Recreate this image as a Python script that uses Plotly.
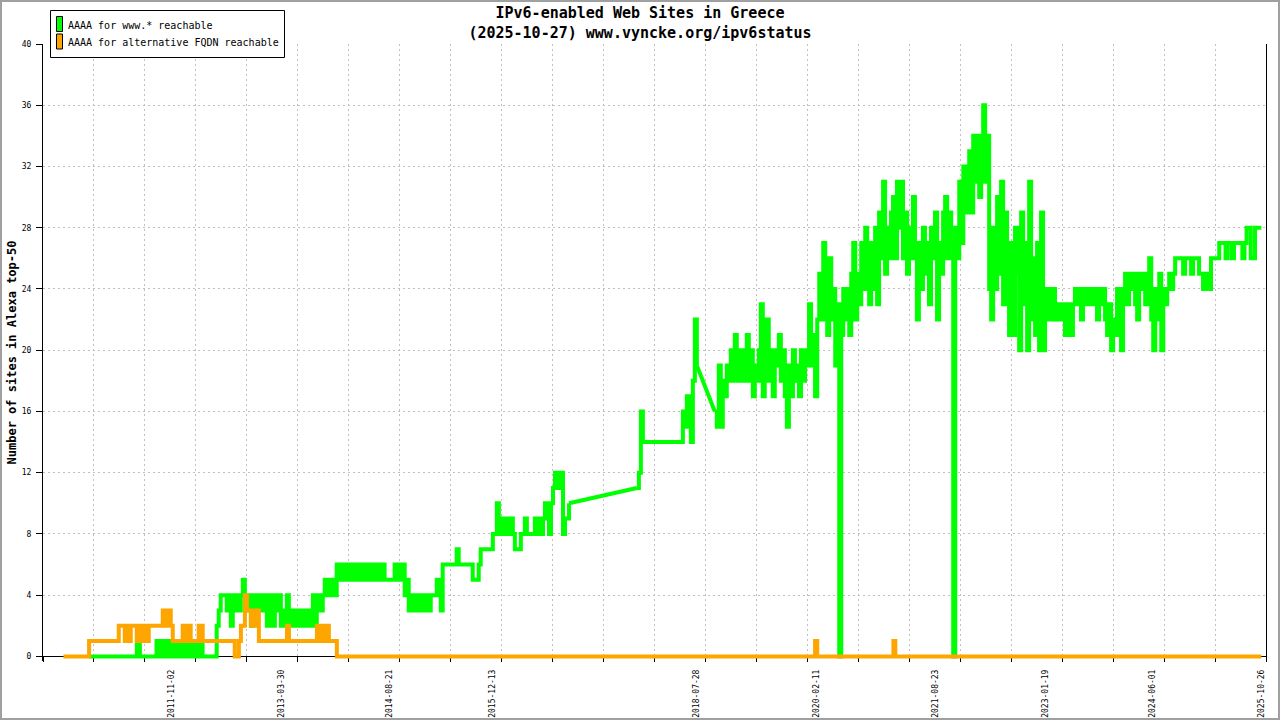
import pandas as pd
import plotly.graph_objects as go

# ---------------- data ----------------
TITLE = "IPv6-enabled Web Sites in Greece<br>(2025-10-27) www.vyncke.org/ipv6status"
Y_TITLE = "Number of sites in Alexa top-50"
SERIES_NAMES = ["AAAA for www.* reachable", "AAAA for alternative FQDN reachable"]
SERIES_COLORS = ["#00ff00", "#ffa500"]

X_START = "2010-03-10"
X_END = "2025-11-17"
X_LABEL_DATES = ["2011-11-02", "2013-03-30", "2014-08-21", "2015-12-13", "2018-07-28",
                 "2020-02-11", "2021-08-23", "2023-01-19", "2024-06-01", "2025-10-26"]
Y_TICKS = [0, 4, 8, 12, 16, 20, 24, 28, 32, 36, 40]

# Each segment: (first sample date, last sample date, samples evenly spread between)
WWW_SEGMENTS = [
    ("2010-10-12", "2011-05-21", [0, 0]),
    ("2011-05-24", "2011-06-05", [1, 1]),
    ("2011-06-07", "2011-08-19", [0, 0]),
    ("2011-08-24", "2012-03-27", [1, 0, 0, 1, 1, 0, 1, 0, 0, 1, 0, 1, 1, 0, 0, 1, 0, 0, 1, 1, 0, 0, 1, 0]),
    ("2012-04-06", "2012-05-27", [0, 0]),
    ("2012-06-01", "2013-01-13", [2, 3, 4, 4, 4, 3, 4, 2, 4, 3, 4, 3, 4, 5, 4, 3, 4, 2, 4, 3, 4, 3, 4, 3, 4]),
    ("2013-01-22", "2013-09-04", [2, 4, 3, 2, 4, 3, 4, 2, 3, 2, 4, 3, 2, 3, 2, 3, 2, 3, 2, 3, 2, 3, 2, 4, 2]),
    ("2013-09-13", "2014-04-25", [3, 4, 3, 4, 5, 4, 5, 4, 5, 4, 6, 5, 5, 6, 5, 6, 5, 6, 6, 5, 6, 5, 6, 6, 5]),
    ("2014-05-04", "2014-12-16", [6, 6, 5, 6, 5, 5, 6, 5, 6, 5, 5, 5, 5, 5, 6, 5, 6, 5, 6, 4, 5, 3, 4, 3, 4]),
    ("2014-12-25", "2015-04-17", [3, 4, 3, 3, 4, 3, 3, 4, 4, 4, 5, 5, 3]),
    ("2015-04-26", "2015-12-07", [6, 6, 6, 6, 6, 6, 6, 7, 6, 6, 6, 6, 6, 6, 6, 5, 5, 5, 6, 7, 7, 7, 7, 7, 7]),
    ("2015-12-17", "2016-07-29", [8, 8, 10, 9, 8, 9, 8, 9, 8, 9, 8, 7, 7, 7, 8, 8, 9, 8, 8, 8, 8, 9, 8, 9, 8]),
    ("2016-08-08", "2016-12-08", [9, 10, 9, 8, 10, 11, 12, 11, 12, 12, 8, 9, 9, 10]),
    ("2017-10-22", "2018-07-30", [11, 12, 16, 14, 14, 14, 14, 14, 14, 14, 14, 14, 14, 14, 14, 14, 14, 14, 14,
                                  14, 14, 14, 14, 16, 15, 17, 16, 14, 18, 22, 19]),
    ("2018-10-22", "2019-06-04", [16, 15, 19, 15, 18, 17, 19, 18, 20, 18, 21, 19, 18, 20, 18, 20, 21, 18, 20,
                                  17, 19, 18, 20, 23, 17]),
    ("2019-06-13", "2020-02-04", [20, 22, 18, 20, 17, 20, 19, 21, 18, 20, 17, 15, 19, 17, 20, 18, 19, 17, 20,
                                  18, 20, 19, 23, 19, 21, 17]),
    ("2020-02-14", "2020-09-26", [22, 25, 22, 27, 23, 21, 26, 22, 24, 19, 23, 0, 21, 24, 22, 24, 21, 25, 27,
                                  22, 25, 23, 27, 24, 28]),
    ("2020-10-05", "2021-05-17", [25, 23, 27, 24, 28, 23, 29, 26, 31, 25, 28, 26, 29, 30, 26, 31, 28, 31, 26,
                                  29, 25, 28, 26, 30, 27]),
    ("2021-05-26", "2022-01-08", [22, 27, 24, 28, 25, 27, 23, 28, 26, 29, 22, 27, 25, 29, 30, 26, 29, 27, 0,
                                  28, 26, 31, 27, 32, 29]),
    ("2022-01-17", "2022-08-29", [30, 33, 29, 34, 31, 34, 30, 33, 36, 31, 34, 24, 22, 28, 24, 30, 25, 31, 23,
                                  29, 24, 21, 27, 21, 28]),
    ("2022-09-08", "2023-04-20", [25, 20, 29, 23, 27, 20, 31, 22, 26, 21, 27, 20, 29, 20, 24, 22, 24, 22, 24,
                                  23, 22, 23, 22, 23, 21]),
    ("2023-04-29", "2023-12-11", [23, 22, 21, 23, 24, 23, 24, 22, 24, 23, 24, 23, 24, 23, 24, 22, 24, 23, 24,
                                  22, 21, 23, 20, 22, 21]),
    ("2023-12-20", "2024-08-02", [24, 22, 20, 24, 25, 23, 25, 24, 25, 23, 22, 25, 24, 25, 23, 25, 26, 22, 20,
                                  24, 22, 25, 20, 24, 23]),
    ("2024-08-11", "2025-03-23", [24, 25, 24, 25, 26, 26, 26, 26, 25, 26, 26, 26, 25, 26, 26, 26, 25, 25, 24,
                                  25, 25, 24, 26, 26, 26]),
    ("2025-04-02", "2025-10-26", [26, 27, 27, 27, 26, 27, 27, 26, 27, 27, 27, 27, 26, 27, 28, 28, 26, 26, 28,
                                  28, 28, 28]),
]

FQDN_SEGMENTS = [
    ("2010-06-14", "2010-10-08", [0, 0]),
    ("2010-10-12", "2011-02-19", [1, 1]),
    ("2011-02-28", "2011-11-08", [2, 2, 2, 1, 2, 1, 2, 2, 2, 1, 2, 2, 1, 2, 1, 2, 2, 2, 2, 2, 2, 2, 3, 2, 3, 3, 2, 1]),
    ("2011-11-17", "2012-09-03", [1, 1, 1, 1, 2, 1, 2, 2, 1, 1, 1, 1, 2, 2, 1, 1, 1, 1, 1, 1, 1, 1, 1, 1, 1,
                                  1, 1, 1, 1, 1, 0, 0]),
    ("2012-09-13", "2012-12-25", [1, 2, 2, 4, 3, 3, 2, 3, 2, 3, 1, 1]),
    ("2013-01-04", "2013-12-16", [1, 1, 1, 1, 1, 1, 1, 1, 1, 1, 1, 1, 2, 1, 1, 1, 1, 1, 1, 1, 1, 1, 1, 1, 1,
                                  1, 1, 2, 1, 2, 1, 2, 2, 1, 1, 1, 1, 0]),
    ("2013-12-25", "2020-01-25", [0, 0]),
    ("2020-02-04", "2020-02-04", [1]),
    ("2020-02-14", "2021-01-26", [0, 0]),
    ("2021-02-05", "2021-02-05", [1]),
    ("2021-02-14", "2025-10-26", [0, 0]),
]

MAX_GAP_DAYS = 40  # longer pauses between samples are drawn as a straight line


def build(segments):
    """Return stepped samples (with breaks at long data gaps) and the gap connectors."""
    xs, ys, connectors = [], [], []
    prev = None
    for start, end, vals in segments:
        if len(vals) == 1:
            dates = [pd.Timestamp(start)]
        else:
            dates = list(pd.date_range(start, end, periods=len(vals)))
        if prev is not None and (dates[0] - prev[0]).days > MAX_GAP_DAYS:
            connectors.append(([prev[0], dates[0]], [prev[1], vals[0]]))
            xs.append(prev[0])
            ys.append(None)
        xs.extend(dates)
        ys.extend(vals)
        prev = (dates[-1], vals[-1])
    return xs, ys, connectors


MONO = "DejaVu Sans Mono"
GRID = "#c0c0c0"

# figure geometry (pixels)
W, H = 1280, 720
ML, MR, MT, MB = 43, 14, 44, 59
Y_MIN = -0.3
PW, PH = W - ML - MR, H - MT - MB


def px_x(px):
    return (px - ML) / PW


def px_y(py):
    return (H - MB - py) / PH


fig = go.Figure()
for segs, name, color in zip([WWW_SEGMENTS, FQDN_SEGMENTS], SERIES_NAMES, SERIES_COLORS):
    xs, ys, connectors = build(segs)
    fig.add_trace(go.Scatter(x=xs, y=ys, mode="lines", name=name, connectgaps=False,
                             line=dict(color=color, width=4, shape="hv"), showlegend=False))
    for cx, cy in connectors:
        fig.add_trace(go.Scatter(x=cx, y=cy, mode="lines", name=name, hoverinfo="skip",
                                 line=dict(color=color, width=4), showlegend=False))

grid_dates = list(pd.date_range(X_START, X_END, periods=25))

# manual legend (box, colour swatches, labels) and outer frame
shapes = [
    dict(type="rect", xref="paper", yref="paper", x0=px_x(50.5), x1=px_x(284.5),
         y0=px_y(57.5), y1=px_y(10.5), line=dict(color="black", width=1), fillcolor="white", layer="above"),
    dict(type="rect", xref="paper", yref="paper", x0=px_x(1), x1=px_x(W - 1),
         y0=px_y(H - 1), y1=px_y(1), line=dict(color="#a0a0a0", width=2), layer="above"),
]
annotations = []
for i, (name, color) in enumerate(zip(SERIES_NAMES, SERIES_COLORS)):
    top = 16.5 + i * 17.5
    shapes.append(dict(type="rect", xref="paper", yref="paper", x0=px_x(56.5), x1=px_x(62.5),
                       y0=px_y(top + 15), y1=px_y(top), line=dict(color="black", width=1),
                       fillcolor=color, layer="above"))
    annotations.append(dict(xref="paper", yref="paper", x=px_x(66), y=px_y(top + 8.5), text=name,
                            showarrow=False, xanchor="left", yanchor="middle",
                            font=dict(family=MONO, size=10, color="black")))

fig.update_layout(
    width=W, height=H,
    margin=dict(l=ML, r=MR, t=MT, b=MB, autoexpand=False),
    paper_bgcolor="white", plot_bgcolor="white",
    showlegend=False,
    font=dict(family=MONO, color="black"),
    title=dict(text=TITLE, x=0.5, xref="container", xanchor="center",
               y=0.975, yref="container", yanchor="top",
               font=dict(family=MONO, size=15, color="black", weight="bold")),
    xaxis=dict(type="date", range=[X_START, X_END], anchor="free", position=(0 - Y_MIN) / (40 - Y_MIN),
               tickmode="array", tickvals=X_LABEL_DATES, ticktext=X_LABEL_DATES, ticks="",
               tickangle=-90, tickfont=dict(family=MONO, size=8, color="black"), ticklabelstandoff=9,
               showgrid=False, zeroline=False, showline=True, linecolor="black", linewidth=1,
               layer="below traces", automargin=False,
               minor=dict(tickmode="array", tickvals=grid_dates, ticks="outside", ticklen=5,
                          tickcolor="black", tickwidth=1, showgrid=True, gridcolor=GRID,
                          griddash="2px,3px", gridwidth=1)),
    yaxis=dict(range=[Y_MIN, 40], tickmode="array", tickvals=Y_TICKS, ticks="outside", ticklen=6,
               tickcolor="black", tickwidth=1, showgrid=True, gridcolor=GRID, griddash="2px,3px",
               gridwidth=1, zeroline=False, showline=True, linecolor="black", linewidth=1, mirror=True,
               tickfont=dict(family=MONO, size=8, color="black"), ticklabelstandoff=3,
               layer="below traces", automargin=False,
               title=dict(text=Y_TITLE, standoff=2,
                          font=dict(family=MONO, size=12, color="black", weight="bold"))),
    shapes=shapes,
    annotations=annotations,
)

fig.write_html("out.html", config={"displayModeBar": False},
               post_script="document.body.style.margin='0';")
